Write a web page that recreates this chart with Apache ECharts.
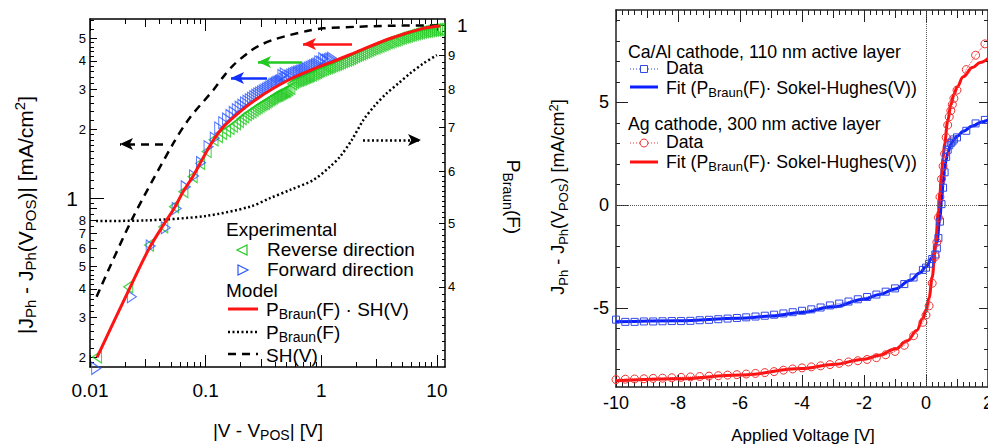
<!DOCTYPE html>
<html><head><meta charset="utf-8">
<script src="https://cdn.jsdelivr.net/npm/echarts@6/dist/echarts.min.js"></script>
<style>html,body{margin:0;padding:0;background:#fff}#c{width:988px;height:445px}</style>
</head><body><div id="c"></div>
<script>
const FONT = '"Liberation Sans", Arial, Helvetica, sans-serif';

// ---------- Left panel data ----------
const reverseV = [0.0115,0.0214,0.0324,0.043,0.0533,0.0642,0.0773,0.0896,0.102,0.117,0.128,0.139,0.150,0.161,0.172,0.183,0.194,0.205,0.216,0.227,0.238,0.249,0.260,0.271,0.282,0.293,0.304,0.315,0.326,0.337,0.348,0.359,0.370,0.381,0.392,0.403,0.414,0.425,0.436,0.447,0.458,0.469,0.480,0.491,0.502,0.52,0.54,0.56,0.58,0.60,0.62,0.64,0.66,0.68,0.70,0.72,0.74,0.76,0.78,0.80,0.83,0.86,0.89,0.92,0.95,0.98,1.02,1.06,1.10,1.14,1.18,1.22,1.27,1.32,1.37,1.42,1.48,1.54,1.60,1.67,1.74,1.81,1.88,1.96,2.04,2.12,2.21,2.30,2.40,2.50,2.60,2.71,2.82,2.94,3.06,3.19,3.32,3.46,3.60,3.75,3.90,4.06,4.23,4.40,4.58,4.77,4.97,5.17,5.38,5.60,5.83,6.07,6.32,6.58,6.85,7.13,7.42,7.72,8.04,8.37,8.71,9.07,9.44,9.83,10.2,10.6];
const reverseJ = [0.201,0.408,0.622,0.748,0.916,1.066,1.24,1.42,1.60,1.80,1.86,1.92,1.97,2.02,2.07,2.12,2.17,2.23,2.27,2.32,2.36,2.39,2.43,2.47,2.50,2.53,2.56,2.59,2.61,2.64,2.67,2.70,2.72,2.75,2.78,2.80,2.82,2.83,2.85,2.87,2.89,2.91,2.93,2.94,2.96,2.99,3.03,3.17,3.22,3.25,3.27,3.29,3.31,3.33,3.35,3.37,3.39,3.41,3.43,3.45,3.47,3.50,3.53,3.56,3.59,3.62,3.65,3.68,3.71,3.73,3.75,3.78,3.81,3.84,3.87,3.90,3.93,3.97,4.00,4.03,4.06,4.10,4.14,4.18,4.22,4.26,4.29,4.33,4.37,4.41,4.45,4.49,4.53,4.56,4.60,4.64,4.68,4.72,4.76,4.80,4.83,4.86,4.90,4.93,4.97,5.01,5.04,5.08,5.10,5.13,5.17,5.20,5.23,5.26,5.29,5.32,5.34,5.37,5.38,5.40,5.42,5.44,5.45,5.47,5.48,5.49];
const forwardV = [0.0113,0.023,0.0335,0.0452,0.0562,0.0672,0.0794,0.0912,0.106,0.120,0.131,0.142,0.153,0.164,0.175,0.186,0.197,0.208,0.219,0.230,0.241,0.252,0.263,0.274,0.285,0.296,0.307,0.318,0.329,0.340,0.351,0.362,0.373,0.384,0.395,0.406,0.417,0.428,0.439,0.450,0.461,0.472,0.483,0.494,0.505,0.53,0.55,0.57,0.59,0.61,0.63,0.65,0.67,0.69,0.71,0.73,0.75,0.78,0.81,0.84,0.87,0.90,0.93,0.96,1.00,1.04,1.08,1.12,1.16,1.20,1.24];
const forwardJ = [0.179,0.369,0.616,0.741,0.90,1.12,1.25,1.43,1.68,1.83,2.03,2.14,2.22,2.30,2.37,2.44,2.50,2.55,2.61,2.66,2.70,2.74,2.78,2.82,2.86,2.89,2.92,2.95,2.98,3.01,3.04,3.07,3.10,3.14,3.16,3.19,3.21,3.23,3.25,3.27,3.45,3.32,3.50,3.36,3.38,3.43,3.46,3.49,3.52,3.54,3.56,3.58,3.60,3.62,3.64,3.67,3.69,3.72,3.75,3.78,3.81,3.84,3.87,3.95,3.95,4.08,4.00,4.02,4.05,4.07,4.10];
const modelV = [0.0115,0.0214,0.0324,0.043,0.0533,0.0642,0.0773,0.0896,0.102,0.117,0.142,0.2,0.277,0.386,0.537,0.75,1.04,1.27,2.03,3.94,7.64,10.7];
const modelJ = [0.20,0.39,0.60,0.76,0.90,1.07,1.24,1.42,1.60,1.80,2.05,2.40,2.72,3.03,3.32,3.58,3.83,3.97,4.38,5.01,5.55,5.69];
const braunV = [0.0113,0.03,0.1,0.242,0.36,0.537,0.855,1.19,1.455,1.84,2.31,2.93,3.68,4.65,5.86,7.64,10.0];
const braunP = [0.504,0.505,0.513,0.530,0.546,0.562,0.582,0.610,0.632,0.670,0.718,0.757,0.789,0.817,0.846,0.876,0.902];
const shV = [0.0114,0.0229,0.0526,0.073,0.1167,0.142,0.174,0.242,0.3,0.4,0.537,0.75,1.04,2.03,3.94,10.7];
const shJ = [0.369,0.80,1.74,2.25,2.98,3.40,3.83,4.40,4.70,4.98,5.19,5.40,5.55,5.64,5.70,5.72];

// left panel ticks
const lxMajor = [0.01,0.1,1,10];
const lxMid = [0.03,0.3,3];
const lxMinor = [0.02,0.04,0.05,0.06,0.07,0.08,0.09,0.2,0.4,0.5,0.6,0.7,0.8,0.9,2,4,5,6,7,8,9];
const lyMajor = [1];
const lyMid = [0.2,0.3,0.4,0.5,0.6,0.7,0.8,0.9,2,3,4,5];
const lyLabels = [0.2,0.3,0.4,0.5,0.6,0.7,0.8,1,2,3,4,5];
const lyMinor = [0.19,0.22,0.24,0.26,0.28,0.32,0.34,0.36,0.38,0.42,0.44,0.46,0.48,0.55,0.65,0.75,0.85,0.95,1.1,1.2,1.3,1.4,1.5,1.6,1.7,1.8,1.9,2.2,2.4,2.6,2.8,3.2,3.4,3.6,3.8,4.2,4.4,4.6,4.8,5.5,6];
const pyLabels = [0.3,0.4,0.5,0.6,0.7,0.8,0.9,1];
const pyMinor = [0.31,0.32,0.33,0.34,0.35,0.36,0.37,0.38,0.39,0.41,0.42,0.43,0.44,0.45,0.46,0.47,0.48,0.49,0.51,0.52,0.53,0.54,0.55,0.56,0.57,0.58,0.59,0.62,0.64,0.66,0.68,0.72,0.74,0.76,0.78,0.82,0.84,0.86,0.88,0.92,0.94,0.96,0.98];

// ---------- Right panel data ----------
const dataV = [-10,-9.7,-9.4,-9.1,-8.8,-8.5,-8.2,-7.9,-7.6,-7.3,-7.0,-6.7,-6.4,-6.1,-5.8,-5.5,-5.2,-4.9,-4.6,-4.3,-4.0,-3.7,-3.4,-3.1,-2.8,-2.5,-2.2,-1.9,-1.6,-1.3,-1.0,-0.7,-0.4,-0.1,0.0,0.1,0.2,0.3,0.35,0.4,0.45,0.5,0.55,0.6,0.65,0.7,0.75,0.8,0.85,0.9,1.0,1.3,1.6,1.9];
const caAlData = [-5.57,-5.68,-5.68,-5.66,-5.66,-5.65,-5.64,-5.64,-5.63,-5.60,-5.58,-5.55,-5.52,-5.49,-5.46,-5.42,-5.38,-5.33,-5.27,-5.21,-5.14,-5.07,-4.98,-4.88,-4.79,-4.69,-4.58,-4.47,-4.35,-4.21,-4.05,-3.84,-3.52,-3.15,-3.04,-2.85,-2.62,-2.40,-2.10,-1.60,-0.80,0.05,0.85,1.60,2.35,2.70,2.92,3.03,3.10,3.20,3.30,3.62,3.98,4.15];
const agData = [-8.49,-8.47,-8.46,-8.45,-8.43,-8.42,-8.40,-8.38,-8.36,-8.34,-8.32,-8.30,-8.27,-8.25,-8.22,-8.19,-8.15,-8.10,-8.03,-7.97,-7.92,-7.87,-7.82,-7.76,-7.70,-7.63,-7.57,-7.51,-7.42,-7.28,-7.12,-6.82,-6.35,-5.70,-5.35,-4.90,-3.80,-2.50,-1.80,-0.60,0.40,1.27,1.90,2.50,3.30,3.90,4.30,4.60,4.90,5.20,5.60,6.60,7.30,7.85];
const caFitV = [-10,-8,-6,-5,-4,-3,-2,-1.5,-1,-0.5,-0.2,0,0.2,0.35,0.45,0.5,0.55,0.6,0.65,0.7,0.8,0.9,1.0,1.2,1.5,1.8,2.0];
const caFitJ = [-5.68,-5.62,-5.50,-5.40,-5.22,-4.95,-4.58,-4.35,-4.08,-3.65,-3.30,-3.00,-2.55,-1.80,-0.60,0.20,1.00,1.70,2.20,2.55,2.95,3.20,3.35,3.60,3.85,4.05,4.15];
const agFitV = [-10,-8,-6,-4,-3,-2,-1.5,-1,-0.6,-0.3,-0.1,0,0.1,0.2,0.3,0.4,0.45,0.5,0.55,0.6,0.7,0.8,0.9,1.0,1.2,1.5,1.75,2.0];
const agFitJ = [-8.55,-8.45,-8.27,-7.95,-7.75,-7.50,-7.30,-7.00,-6.60,-6.10,-5.50,-5.10,-4.50,-3.50,-2.00,-0.30,0.60,1.50,2.30,3.00,4.10,4.90,5.40,5.75,6.25,6.70,6.95,7.15];

// right panel ticks
const rxMajor = [-10,-8,-6,-4,-2,0,2];
const rxMid = [-9,-7,-5,-3,-1,1];
const rxMinor = [];
for (let i = -50; i <= 10; i++) { if (i % 5 !== 0) rxMinor.push(i / 5); }
const ryMajor = [-5,0,5];
const ryMinor = [-8,-7,-6,-4,-3,-2,-1,1,2,3,4,6,7,8,9];

function zip(a, b) { const n = Math.min(a.length, b.length); const r = []; for (let i = 0; i < n; i++) r.push([a[i], b[i]]); return r; }

function ax(p) {
  const lc = p.lc || '#000';
  return {
    type: p.type, gridIndex: p.grid, position: p.pos, min: p.min, max: p.max, logBase: 10,
    axisLine: {show: !!p.line, onZero: false, lineStyle: {color: lc, width: 1.5}},
    axisTick: {show: true, inside: true, length: p.len, customValues: p.ticks, lineStyle: {color: lc, width: 1}},
    axisLabel: p.labels ? Object.assign({show: true, customValues: p.labels, formatter: p.fmt, color: '#000', fontFamily: FONT}, p.lab || {}) : {show: false},
    splitLine: {show: false}, splitArea: {show: false}, minorTick: {show: false}, axisPointer: {show: false}
  };
}

const LX = {type: 'log', grid: 0, min: 0.01, max: 11.75};
const LY = {type: 'log', grid: 0, min: 0.1815, max: 6.10};
const PY = {type: 'log', grid: 0, min: 0.302, max: 1.0238};
const RX = {type: 'value', grid: 1, min: -10, max: 2, lc: '#222'};
const RY = {type: 'value', grid: 1, min: -8.85, max: 9.5, lc: '#222'};

const xAxes = [
  ax(Object.assign({}, LX, {pos: 'bottom', line: true, ticks: lxMajor, len: 12, labels: lxMajor, fmt: v => String(v), lab: {fontSize: 19, margin: 14}})),
  ax(Object.assign({}, LX, {pos: 'bottom', ticks: lxMid, len: 8})),
  ax(Object.assign({}, LX, {pos: 'bottom', ticks: lxMinor, len: 5})),
  ax(Object.assign({}, LX, {pos: 'top', line: true, ticks: lxMajor, len: 12})),
  ax(Object.assign({}, LX, {pos: 'top', ticks: lxMid, len: 8})),
  ax(Object.assign({}, LX, {pos: 'top', ticks: lxMinor, len: 5})),
  ax(Object.assign({}, RX, {pos: 'bottom', line: true, ticks: rxMajor, len: 12, labels: rxMajor, fmt: v => String(v), lab: {fontSize: 18, margin: 7}})),
  ax(Object.assign({}, RX, {pos: 'bottom', ticks: rxMid, len: 8})),
  ax(Object.assign({}, RX, {pos: 'bottom', ticks: rxMinor, len: 5})),
  ax(Object.assign({}, RX, {pos: 'top', line: true, ticks: rxMajor, len: 12})),
  ax(Object.assign({}, RX, {pos: 'top', ticks: rxMid, len: 8})),
  ax(Object.assign({}, RX, {pos: 'top', ticks: rxMinor, len: 5}))
];
const yAxes = [
  ax(Object.assign({}, LY, {pos: 'left', line: true, ticks: lyMajor, len: 14, labels: lyLabels,
    fmt: v => v === 1 ? '{b|1}' : (v < 1 ? String(Math.round(v * 10)) : String(v)),
    lab: {fontSize: 13, margin: 4, rich: {b: {fontSize: 21, padding: [0, 8, 0, 0], fontFamily: FONT, color: '#000'}}}})),
  ax(Object.assign({}, LY, {pos: 'left', ticks: lyMid, len: 7})),
  ax(Object.assign({}, LY, {pos: 'left', ticks: lyMinor, len: 4})),
  ax(Object.assign({}, PY, {pos: 'right', line: true, ticks: pyLabels, len: 6, labels: pyLabels,
    fmt: v => v >= 0.999 ? '{b|1}' : String(Math.round(v * 10)),
    lab: {fontSize: 13, margin: 3, rich: {b: {fontSize: 19, padding: [0, 0, 0, 9], fontFamily: FONT, color: '#000'}}}})),
  ax(Object.assign({}, PY, {pos: 'right', ticks: pyMinor, len: 3})),
  ax(Object.assign({}, RY, {pos: 'left', line: true, ticks: ryMajor, len: 12, labels: ryMajor, fmt: v => String(v), lab: {fontSize: 18, margin: 7}})),
  ax(Object.assign({}, RY, {pos: 'left', ticks: ryMinor, len: 4})),
  ax(Object.assign({}, RY, {pos: 'right', line: true, ticks: ryMajor, len: 9})),
  ax(Object.assign({}, RY, {pos: 'right', ticks: ryMinor, len: 4}))
];

const GREEN = '#22c922', BLUE = '#2c56ff', RED = '#ff1414';
function arrow(color, x1, y1, x2, y2, type) {
  return {silent: true, animation: false, symbol: ['none', 'arrow'], symbolSize: [9, 13], label: {show: false},
    lineStyle: {color: color, width: 2.5, type: type || 'solid'}, emphasis: {disabled: true},
    data: [[{x: x1, y: y1}, {x: x2, y: y2}]]};
}

const series = [
  {type: 'scatter', name: 'Reverse direction', xAxisIndex: 0, yAxisIndex: 0, data: zip(reverseV, reverseJ),
    symbol: 'triangle', symbolRotate: 90, symbolSize: [12, 9],
    itemStyle: {color: 'rgba(0,0,0,0)', borderColor: GREEN, borderWidth: 1.2}, clip: false,
    markLine: arrow(GREEN, 302, 62, 258, 62)},
  {type: 'scatter', name: 'Forward direction', xAxisIndex: 0, yAxisIndex: 0, data: zip(forwardV, forwardJ),
    symbol: 'triangle', symbolRotate: -90, symbolSize: [12, 9],
    itemStyle: {color: 'rgba(0,0,0,0)', borderColor: BLUE, borderWidth: 1.1}, clip: false,
    markLine: arrow('#1030ff', 267, 78, 231, 78)},
  {type: 'line', name: 'PBraun', xAxisIndex: 0, yAxisIndex: 3, data: zip(braunV, braunP), smooth: 0.3,
    showSymbol: false, lineStyle: {color: '#000', width: 2.5, type: [2, 2.5]},
    markLine: arrow('#000', 363, 140, 421, 140, [2, 2.5])},
  {type: 'line', name: 'SH', xAxisIndex: 0, yAxisIndex: 0, data: zip(shV, shJ), smooth: 0.3,
    showSymbol: false, lineStyle: {color: '#000', width: 2.5, type: [8, 6]},
    markLine: arrow('#000', 163, 144, 120, 144, [8, 6])},
  {type: 'line', name: 'Model', xAxisIndex: 0, yAxisIndex: 0, data: zip(modelV, modelJ), smooth: 0.3,
    showSymbol: false, lineStyle: {color: RED, width: 3},
    markLine: arrow(RED, 352, 44, 303, 44)},
  // right panel
  {type: 'line', name: 'CaAl data', xAxisIndex: 6, yAxisIndex: 5, data: zip(dataV, caAlData),
    symbol: 'rect', symbolSize: 7, showSymbol: true,
    itemStyle: {color: 'rgba(0,0,0,0)', borderColor: '#3348e6', borderWidth: 1},
    lineStyle: {color: '#3348e6', width: 1, type: 'dotted'},
    markLine: {silent: true, animation: false, symbol: ['none', 'none'], label: {show: false},
      lineStyle: {color: '#555', width: 1, type: 'dotted'}, emphasis: {disabled: true},
      data: [{yAxis: 0}, {xAxis: 0}]}},
  {type: 'line', name: 'Ag data', xAxisIndex: 6, yAxisIndex: 5, data: zip(dataV, agData),
    symbol: 'circle', symbolSize: 8, showSymbol: true,
    itemStyle: {color: 'rgba(0,0,0,0)', borderColor: '#f03030', borderWidth: 1},
    lineStyle: {color: '#f03030', width: 1, type: 'dotted'}},
  {type: 'line', name: 'CaAl fit', xAxisIndex: 6, yAxisIndex: 5, data: zip(caFitV, caFitJ), smooth: 0.4, smoothMonotone: 'x',
    showSymbol: false, lineStyle: {color: '#0a1eff', width: 3}},
  {type: 'line', name: 'Ag fit', xAxisIndex: 6, yAxisIndex: 5, data: zip(agFitV, agFitJ), smooth: 0.4, smoothMonotone: 'x',
    showSymbol: false, lineStyle: {color: '#ff1010', width: 3}}
];

// ---------- text / legends ----------
function richSet(n, s, lhf) {
  return {
    n: {fontSize: n, lineHeight: Math.round(n * lhf), fontFamily: FONT, fill: '#000', color: '#000'},
    s: {fontSize: s, lineHeight: s + 1, verticalAlign: 'bottom', fontFamily: FONT, fill: '#000', color: '#000'},
    u: {fontSize: s, lineHeight: s + 1, verticalAlign: 'top', fontFamily: FONT, fill: '#000', color: '#000'}
  };
}
function txt(x, y, text, n, s, opt) {
  const hasSub = text.indexOf('{s|') >= 0 || text.indexOf('{u|') >= 0;
  return Object.assign({type: 'text', x: x, y: y, silent: true, z: 100,
    style: {text: text, rich: richSet(n, s || Math.round(n * 0.72), hasSub ? 1.26 : 0.92), fontSize: n, fontFamily: FONT, fill: '#000',
      align: (opt && opt.align) || 'left', verticalAlign: 'middle'}}, opt && opt.rotation !== undefined ? {rotation: opt.rotation} : {});
}
function seg(x1, y1, x2, y2, color, w, dash) {
  return {type: 'line', silent: true, z: 100, shape: {x1: x1, y1: y1, x2: x2, y2: y2},
    style: {stroke: color, lineWidth: w, lineDash: dash || null}};
}

const graphics = [
  // left legend
  txt(226, 229, '{n|Experimental}', 19, 14),
  {type: 'polygon', silent: true, z: 100, shape: {points: [[237, 250], [247, 245], [247, 255]]}, style: {fill: 'none', stroke: GREEN, lineWidth: 1.2}},
  txt(267, 249, '{n|Reverse direction}', 19, 14),
  {type: 'polygon', silent: true, z: 100, shape: {points: [[238, 265], [248, 270], [238, 275]]}, style: {fill: 'none', stroke: BLUE, lineWidth: 1.2}},
  txt(267, 269, '{n|Forward direction}', 19, 14),
  txt(226, 290, '{n|Model}', 19, 14),
  seg(228, 309, 258, 309, RED, 3),
  txt(266, 309, '{n|P}{s|Braun}{n|(F) · SH(V)}', 19, 14),
  seg(228, 332, 258, 332, '#000', 2.5, [2, 2.5]),
  txt(266, 332, '{n|P}{s|Braun}{n|(F)}', 19, 14),
  seg(228, 354, 258, 354, '#000', 2.5, [8, 6]),
  txt(266, 355, '{n|SH(V)}', 19, 14),
  // right legend
  txt(628, 52, '{n|Ca/Al cathode, 110 nm active layer}', 17.7, 13),
  seg(630, 69, 658, 69, '#3348e6', 1, [1, 2]),
  {type: 'rect', silent: true, z: 100, shape: {x: 640.5, y: 65.5, width: 7, height: 7}, style: {fill: '#fff', stroke: '#3348e6', lineWidth: 1}},
  txt(666, 68, '{n|Data}', 17.7, 13),
  seg(630, 87, 658, 87, '#0a1eff', 3),
  txt(666, 88, '{n|Fit (P}{s|Braun}{n|(F)· Sokel-Hughes(V))}', 17.7, 13),
  txt(628, 124, '{n|Ag cathode, 300 nm active layer}', 17.7, 13),
  seg(630, 143, 658, 143, '#f03030', 1, [1, 2]),
  {type: 'circle', silent: true, z: 100, shape: {cx: 644, cy: 143, r: 4}, style: {fill: '#fff', stroke: '#f03030', lineWidth: 1}},
  txt(666, 142, '{n|Data}', 17.7, 13),
  seg(630, 162, 658, 162, '#ff1010', 3),
  txt(666, 162, '{n|Fit (P}{s|Braun}{n|(F)· Sokel-Hughes(V))}', 17.7, 13),
  // axis titles
  txt(25, 215, '{n||J}{s|Ph}{n| - J}{s|Ph}{n|(V}{s|POS}{n|)| [mA/cm}{u|2}{n|]}', 21, 15, {align: 'center', rotation: Math.PI / 2}),
  txt(268, 430, '{n||V - V}{s|POS}{n|| [V]}', 19, 14, {align: 'center'}),
  txt(513, 197, '{n|P}{s|Braun}{n|(F)}', 19, 14, {align: 'center', rotation: -Math.PI / 2}),
  txt(558, 197, '{n|J}{s|Ph}{n| - J}{s|Ph}{n|(V}{s|POS}{n|) [mA/cm}{u|2}{n|]}', 18, 13, {align: 'center', rotation: Math.PI / 2}),
  txt(803, 435, '{n|Applied Voltage [V]}', 17, 12, {align: 'center'})
];

const chart = echarts.init(document.getElementById('c'), null, {renderer: 'svg', width: 988, height: 445});
chart.setOption({
  animation: false,
  backgroundColor: '#fff',
  textStyle: {fontFamily: FONT},
  grid: [
    {left: 90, top: 19, width: 355, height: 348, outerBoundsMode: 'none', containLabel: false},
    {left: 616, top: 10, right: 0, height: 377, outerBoundsMode: 'none', containLabel: false}
  ],
  xAxis: xAxes,
  yAxis: yAxes,
  series: series,
  graphic: graphics
});
</script></body></html>
